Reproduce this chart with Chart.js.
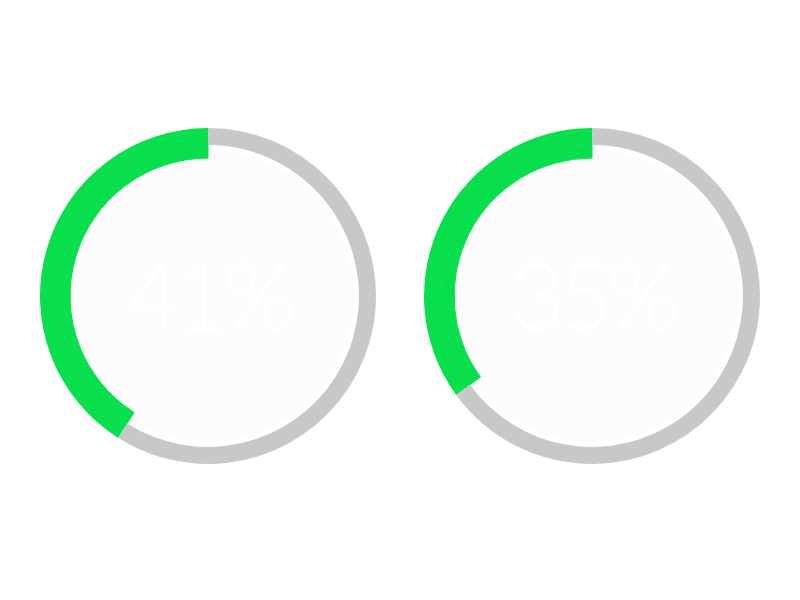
<!DOCTYPE html>
<html>
<head>
<meta charset="utf-8">
<script src="https://cdn.jsdelivr.net/npm/chart.js@4"></script>
<style>
  html, body { margin: 0; padding: 0; background: #ffffff; }
  body { width: 800px; height: 600px; position: relative; overflow: hidden; }
  .gauge { position: absolute; top: 128px; width: 336px; height: 336px; }
  #g1 { left: 40px; }
  #g2 { left: 424px; }
</style>
</head>
<body>
<div class="gauge" id="g1"><canvas id="chart1" width="336" height="336"></canvas></div>
<div class="gauge" id="g2"><canvas id="chart2" width="336" height="336"></canvas></div>
<script>
// percentages shown in each gauge
const gaugeIds = ['chart1', 'chart2'];
const gaugeValues = [41, 35];
const segmentLabels = ['rest', 'done'];

const GREEN = '#08df4c';
const GRAY = '#c8c8c8';
const NONE = 'rgba(0,0,0,0)';

// fills the inside of the ring and writes the percentage
const centerPlugin = {
    id: 'centerFill',
    beforeDatasetsDraw(chart) {
        const arc = chart.getDatasetMeta(0).data[0];
        const ctx = chart.ctx;
        ctx.save();
        ctx.beginPath();
        ctx.arc(arc.x, arc.y, arc.outerRadius - 22, 0, Math.PI * 2);
        ctx.fillStyle = '#fcfcfc';
        ctx.fill();
        ctx.restore();
    },
    afterDraw(chart) {
        const arc = chart.getDatasetMeta(0).data[0];
        const ctx = chart.ctx;
        ctx.save();
        ctx.font = '300 94px Lato';
        ctx.letterSpacing = '-6px';
        ctx.fillStyle = '#ffffff';
        ctx.textAlign = 'center';
        ctx.textBaseline = 'middle';
        ctx.fillText(chart.options.plugins.centerFill.text, arc.x, arc.y + 4);
        ctx.restore();
    }
};

gaugeIds.forEach((id, i) => {
    const value = gaugeValues[i];
    new Chart(document.getElementById(id), {
        type: 'doughnut',
        data: {
            labels: segmentLabels,
            datasets: [
                {
                    //outer ring: gray track plus green
                    data: [100 - value, value],
                    backgroundColor: [GRAY, GREEN],
                    borderWidth: 0,
                    weight: 17
                },
                {
                    //inner ring: only green, makes green thicker
                    data: [100 - value, value],
                    backgroundColor: [NONE, GREEN],
                    borderColor: [NONE, GREEN],
                    borderWidth: [0, 1],
                    weight: 13
                }
            ]
        },
        options: {
            responsive: false,
            animation: false,
            cutout: '82.1%',
            events: [],
            plugins: {
                legend: { display: false },
                tooltip: { enabled: false },
                centerFill: { text: value + '%' }
            }
        },
        plugins: [centerPlugin]
    });
});
</script>
</body>
</html>
